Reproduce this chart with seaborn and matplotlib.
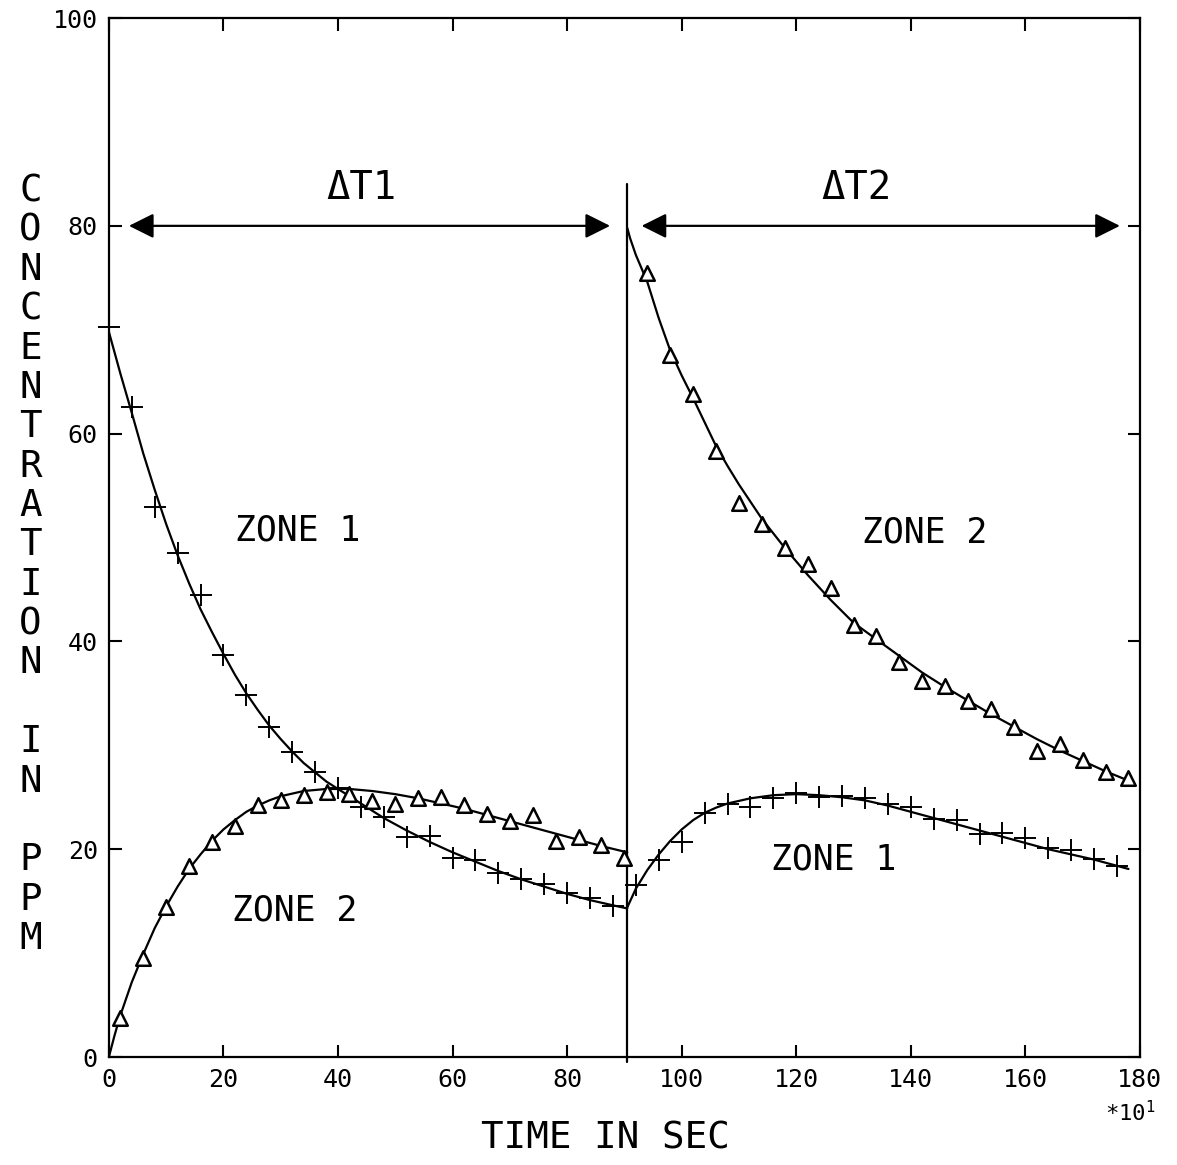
import numpy as np
import pandas as pd
import seaborn as sns
import matplotlib.pyplot as plt

# measured points, first interval (0-90) and second interval (90-180)
z1a_t = [0, 4, 8, 12, 16, 20, 24, 28, 32, 36, 40, 44, 48, 52, 56, 60, 64, 68, 72, 76, 80, 84, 88]
z1a_c = [70.3, 62.6, 52.9, 48.5, 44.5, 38.7, 34.8, 31.8, 29.4, 27.4, 25.9, 24.1, 23.1, 21.2, 21.3,
         19.2, 19.0, 17.7, 17.1, 16.7, 15.8, 15.3, 14.5]
z2a_t = [2, 6, 10, 14, 18, 22, 26, 30, 34, 38, 42, 46, 50, 54, 58, 62, 66, 70, 74, 78, 82, 86, 90]
z2a_c = [3.8, 9.5, 14.4, 18.4, 20.7, 22.2, 24.3, 24.7, 25.2, 25.5, 25.3, 24.6, 24.4, 24.9, 25.0,
         24.3, 23.4, 22.7, 23.3, 20.8, 21.2, 20.4, 19.2]
z2b_t = [94, 98, 102, 106, 110, 114, 118, 122, 126, 130, 134, 138, 142, 146, 150, 154, 158, 162,
         166, 170, 174, 178]
z2b_c = [75.5, 67.6, 63.8, 58.3, 53.3, 51.3, 49.0, 47.5, 45.1, 41.6, 40.5, 38.0, 36.2, 35.7, 34.3,
         33.5, 31.8, 29.5, 30.1, 28.6, 27.4, 26.9]
z1b_t = [92, 96, 100, 104, 108, 112, 116, 120, 124, 128, 132, 136, 140, 144, 148, 152, 156, 160,
         164, 168, 172, 176]
z1b_c = [16.6, 19.0, 20.7, 23.5, 24.4, 24.1, 24.9, 25.4, 25.0, 25.1, 24.9, 24.4, 24.1, 22.9, 22.8,
         21.5, 21.6, 21.1, 20.1, 19.9, 19.1, 18.4]

# fitted curves
fit1a_t = [0, 2, 4, 6, 8, 10, 12, 14, 16, 18, 20, 22, 24, 26, 28, 30, 32, 34, 36, 38, 40, 44, 48,
           52, 56, 60, 64, 68, 72, 76, 80, 84, 88, 90.5]
fit1a_c = [69.8, 65.8, 62.0, 58.1, 54.6, 51.3, 48.3, 45.6, 43.1, 40.9, 38.8, 36.8, 35.0, 33.4, 31.9,
           30.6, 29.4, 28.3, 27.4, 26.5, 25.8, 24.4, 23.0, 21.8, 20.7, 19.7, 18.8, 17.9, 17.1, 16.4,
           15.7, 15.1, 14.6, 14.3]
fit2a_t = [0, 1, 2, 4, 6, 8, 10, 12, 14, 16, 18, 20, 22, 24, 26, 28, 30, 34, 38, 42, 46, 50, 54, 58,
           62, 66, 70, 74, 78, 82, 86, 90.5]
fit2a_c = [0.0, 2.1, 4.0, 7.2, 9.9, 12.4, 14.5, 16.4, 18.1, 19.5, 20.8, 21.9, 22.8, 23.6, 24.2, 24.7,
           25.1, 25.6, 25.8, 25.8, 25.6, 25.3, 24.9, 24.4, 23.9, 23.3, 22.7, 22.1, 21.5, 20.9, 20.3, 19.7]
fit2b_t = [90.5, 91, 92, 93, 94, 96, 98, 100, 102, 104, 106, 108, 110, 114, 118, 122, 126, 130, 134,
           138, 142, 146, 150, 154, 158, 162, 166, 170, 174, 178]
fit2b_c = [79.8, 78.8, 77.2, 75.9, 74.6, 71.1, 68.0, 65.6, 63.4, 61.1, 58.8, 56.9, 55.1, 51.8, 49.0,
           46.4, 44.0, 41.8, 40.2, 38.6, 37.0, 35.6, 34.3, 33.0, 31.8, 30.6, 29.5, 28.5, 27.5, 26.6]
fit1b_t = [90.5, 92, 94, 96, 98, 100, 102, 104, 106, 108, 112, 116, 120, 124, 128, 132, 136, 140,
           144, 148, 152, 156, 160, 164, 168, 172, 176, 178]
fit1b_c = [14.4, 16.2, 18.0, 19.5, 20.8, 21.9, 22.8, 23.5, 24.0, 24.4, 24.9, 25.2, 25.3, 25.2, 25.0,
           24.7, 24.2, 23.6, 23.0, 22.4, 21.8, 21.2, 20.6, 20.0, 19.5, 19.0, 18.4, 18.1]

switch_t = 90.5

sns.set_style("ticks")
plt.rcParams['font.family'] = ['DejaVu Sans Mono', 'DejaVu Sans']
plt.rcParams['mathtext.default'] = 'regular'
plt.rcParams['text.color'] = 'black'
plt.rcParams['axes.edgecolor'] = 'black'
plt.rcParams['xtick.color'] = 'black'
plt.rcParams['ytick.color'] = 'black'

fig = plt.figure(figsize=(11.77, 11.65), dpi=100)
ax = fig.add_axes([0.0925, 0.0927, 0.876, 0.8918])

for t, c in [(fit1a_t, fit1a_c), (fit2a_t, fit2a_c), (fit2b_t, fit2b_c), (fit1b_t, fit1b_c)]:
    sns.lineplot(x=t, y=c, ax=ax, color='black', lw=1.6, sort=False, estimator=None)

for t, c in [(z1a_t, z1a_c), (z1b_t, z1b_c)]:
    sns.scatterplot(x=t, y=c, ax=ax, marker='+', s=230, color='black', linewidth=1.4, zorder=3,
                    clip_on=False)
for t, c in [(z2a_t, z2a_c), (z2b_t, z2b_c)]:
    sns.scatterplot(x=t, y=c, ax=ax, marker='^', s=110, facecolor='white', edgecolor='black',
                    linewidth=1.8, zorder=3)

ax.plot([switch_t, switch_t], [-0.5, 84], color='black', lw=1.6, clip_on=False)

# interval arrows
arrow = dict(arrowstyle='<|-|>', color='black', lw=1.6, mutation_scale=38, shrinkA=0, shrinkB=0)
ax.annotate('', xy=(3.5, 80), xytext=(87.5, 80), arrowprops=arrow)
ax.annotate('', xy=(93, 80), xytext=(176.5, 80), arrowprops=arrow)
ax.text(44, 83.6, 'ΔT1', ha='center', va='center', fontsize=28)
ax.text(130.5, 83.6, 'ΔT2', ha='center', va='center', fontsize=28)

ax.text(33, 50.7, 'ZONE 1', ha='center', va='center', fontsize=25)
ax.text(32.5, 14.1, 'ZONE 2', ha='center', va='center', fontsize=25)
ax.text(142.5, 50.5, 'ZONE 2', ha='center', va='center', fontsize=25)
ax.text(126.5, 19.0, 'ZONE 1', ha='center', va='center', fontsize=25)

ax.set_xlim(0, 180)
ax.set_ylim(0, 100)
ax.set_xticks(np.arange(0, 181, 20))
ax.set_yticks(np.arange(0, 101, 20))
ax.tick_params(direction='in', length=9, width=1.5, labelsize=18, top=True, right=True, pad=8)
for s in ax.spines.values():
    s.set_linewidth(1.6)
ax.set_xlabel('')
ax.set_ylabel('')

fig.text(0.514, 0.023, 'TIME IN SEC', ha='center', va='center', fontsize=27)
fig.text(0.96, 0.045, '*10$^{1}$', ha='center', va='center', fontsize=16)
fig.text(0.026, 0.515, '\n'.join('CONCENTRATION IN PPM'), ha='center', va='center',
         fontsize=27, linespacing=1.12)

fig.savefig('out.png', dpi=100)
